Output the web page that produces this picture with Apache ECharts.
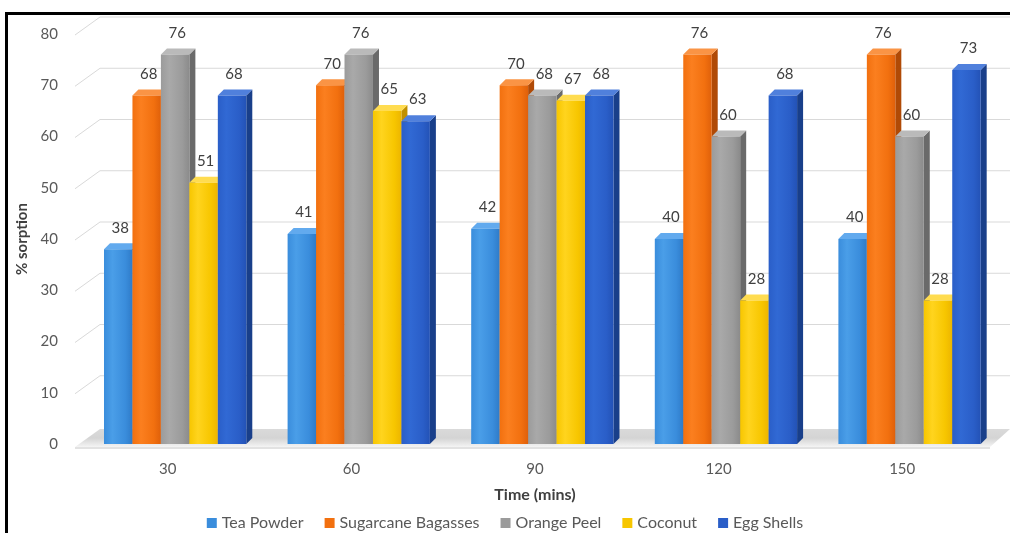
<!DOCTYPE html>
<html>
<head>
<meta charset="utf-8">
<title>% sorption vs time</title>
<script src="https://cdn.jsdelivr.net/npm/echarts@6/dist/echarts.min.js"></script>
<style>
  html, body { margin: 0; padding: 0; background: #ffffff; }
  #chart { width: 1010px; height: 533px; }
</style>
</head>
<body>
<div id="chart"></div>
<script>
// Sorption (%) of each adsorbent at each contact time
const categories = ['30', '60', '90', '120', '150'];
const teaPowder  = [38, 41, 42, 40, 40];
const sugarcane  = [68, 70, 70, 76, 76];
const orangePeel = [76, 76, 68, 60, 60];
const coconut    = [51, 65, 67, 28, 28];
const eggShells  = [68, 63, 68, 68, 73];
const yTicks     = [0, 10, 20, 30, 40, 50, 60, 70, 80];

const seriesNames = ['Tea Powder', 'Sugarcane Bagasses', 'Orange Peel', 'Coconut', 'Egg Shells'];
const seriesData  = [teaPowder, sugarcane, orangePeel, coconut, eggShells];

// face colours for the extruded bars: front gradient, side and top
const palettes = [
  { base: '#3a8ddc', light: '#4a9ee8', dark: '#2f7bc8', side: '#235f9f', top: '#62aaee' },
  { base: '#f2700f', light: '#fb7f1f', dark: '#df600a', side: '#b04a06', top: '#fa9445' },
  { base: '#9b9b9b', light: '#a9a9a9', dark: '#8b8b8b', side: '#6a6a6a', top: '#bababa' },
  { base: '#f7c600', light: '#ffd41e', dark: '#ecb500', side: '#c09000', top: '#ffdc50' },
  { base: '#2a5ec8', light: '#3169d4', dark: '#2352b6', side: '#193f8a', top: '#5080dc' }
];

const DEPTH_X = 6, DEPTH_Y = -6;      // bar extrusion
const WALL_X = 25, WALL_Y = -18;      // back wall offset

// gridlines drawn on the back wall plus the floor plate
function renderWall(params, api) {
  const v = api.value(1);
  const cs = params.coordSys;
  const y = api.coord([0, v])[1];
  const xl = cs.x - 1;
  if (v === 0) {
    return {
      type: 'group',
      children: [
        {
          type: 'polygon',
          shape: { points: [[xl, y + 3], [xl + WALL_X, y + WALL_Y + 3], [1010, y + WALL_Y + 3], [cs.x + cs.width - 4, y + 3]] },
          style: {
            fill: { type: 'linear', x: 0, y: 0, x2: 0, y2: 1, colorStops: [
              { offset: 0, color: '#dadada' }, { offset: 0.5, color: '#d4d4d4' }, { offset: 1, color: '#f4f4f4' }
            ] }
          }
        },
        {
          type: 'rect',
          shape: { x: xl, y: y + 3, width: cs.width - 3, height: 2 },
          style: { fill: '#e2e2e2' }
        }
      ]
    };
  }
  return {
    type: 'polyline',
    shape: { points: [[xl, y + 1], [xl + WALL_X, y + WALL_Y + 1], [1010, y + WALL_Y + 1]] },
    style: { stroke: '#d9d9d9', lineWidth: 1, fill: null }
  };
}

function makeBarRenderer(k) {
  const pal = palettes[k];
  return function (params, api) {
    const ci = api.value(0);
    const v = api.value(1);
    const base = api.coord([ci, 0]);
    const top = api.coord([ci, v]);
    const band = api.size([1, 0])[0];
    const w = band * 0.155;
    const off = band * 0.04;
    const x0 = base[0] + off - 2.5 * w + k * w;
    const x1 = x0 + w;
    const yb = base[1];
    const yt = top[1];
    return {
      type: 'group',
      children: [
        {
          type: 'polygon',
          shape: { points: [[x1, yt], [x1 + DEPTH_X, yt + DEPTH_Y], [x1 + DEPTH_X, yb + DEPTH_Y], [x1, yb]] },
          style: { fill: pal.side }
        },
        {
          type: 'polygon',
          shape: { points: [[x0, yt], [x0 + DEPTH_X, yt + DEPTH_Y], [x1 + DEPTH_X, yt + DEPTH_Y], [x1, yt]] },
          style: { fill: pal.top }
        },
        {
          type: 'rect',
          shape: { x: x0, y: yt, width: w, height: yb - yt },
          style: {
            fill: { type: 'linear', x: 0, y: 0, x2: 1, y2: 0, colorStops: [
              { offset: 0, color: pal.base }, { offset: 0.3, color: pal.light },
              { offset: 0.75, color: pal.base }, { offset: 1, color: pal.dark }
            ] }
          }
        },
        {
          type: 'text',
          style: {
            text: String(v),
            x: x0 + w / 2 + 2,
            y: yt - 14,
            align: 'center',
            verticalAlign: 'bottom',
            fill: '#404040',
            fontFamily: 'Lato',
            fontSize: 15
          }
        }
      ]
    };
  };
}

const series = [{
  type: 'custom',
  name: 'wall',
  silent: true,
  clip: false,
  z: 1,
  data: yTicks.map(function (t) { return [0, t]; }),
  encode: { x: 0, y: 1 },
  renderItem: renderWall
}];

seriesNames.forEach(function (name, k) {
  series.push({
    type: 'custom',
    name: name,
    clip: false,
    z: 2,
    itemStyle: { color: palettes[k].base },
    data: seriesData[k].map(function (v, i) { return [i, v]; }),
    encode: { x: 0, y: 1 },
    renderItem: makeBarRenderer(k)
  });
});

const chart = echarts.init(document.getElementById('chart'), null, { renderer: 'canvas' });
chart.setOption({
  animation: false,
  backgroundColor: '#ffffff',
  textStyle: { fontFamily: 'Lato' },
  grid: { left: 76, right: 16, top: 34, bottom: 89 },
  xAxis: {
    type: 'category',
    data: categories,
    axisLine: { show: false },
    axisTick: { show: false },
    axisLabel: { color: '#595959', fontSize: 15, margin: 18, fontFamily: 'Lato' },
    name: 'Time (mins)',
    nameLocation: 'middle',
    nameGap: 43,
    nameTextStyle: { color: '#404040', fontSize: 16, fontWeight: 'bold', fontFamily: 'Lato' }
  },
  yAxis: {
    type: 'value',
    min: 0,
    max: 80,
    interval: 10,
    axisLine: { show: false },
    axisTick: { show: false },
    splitLine: { show: false },
    axisLabel: { color: '#595959', fontSize: 15, margin: 18, fontFamily: 'Lato' },
    name: '% sorption',
    nameLocation: 'middle',
    nameGap: 46,
    nameRotate: 90,
    nameTextStyle: { color: '#404040', fontSize: 15, fontWeight: 'bold', fontFamily: 'Lato' }
  },
  legend: {
    data: seriesNames,
    top: 510,
    left: 'center',
    icon: 'rect',
    itemWidth: 10,
    itemHeight: 10,
    itemGap: 21,
    textStyle: { color: '#595959', fontSize: 16, fontFamily: 'Lato' },
    selectedMode: false
  },
  graphic: [{
    type: 'polyline',
    silent: true,
    shape: { points: [[6.5, 533], [6.5, 13.5], [1010, 13.5]] },
    style: { stroke: '#000000', lineWidth: 3, fill: null }
  }],
  series: series
});
</script>
</body>
</html>
